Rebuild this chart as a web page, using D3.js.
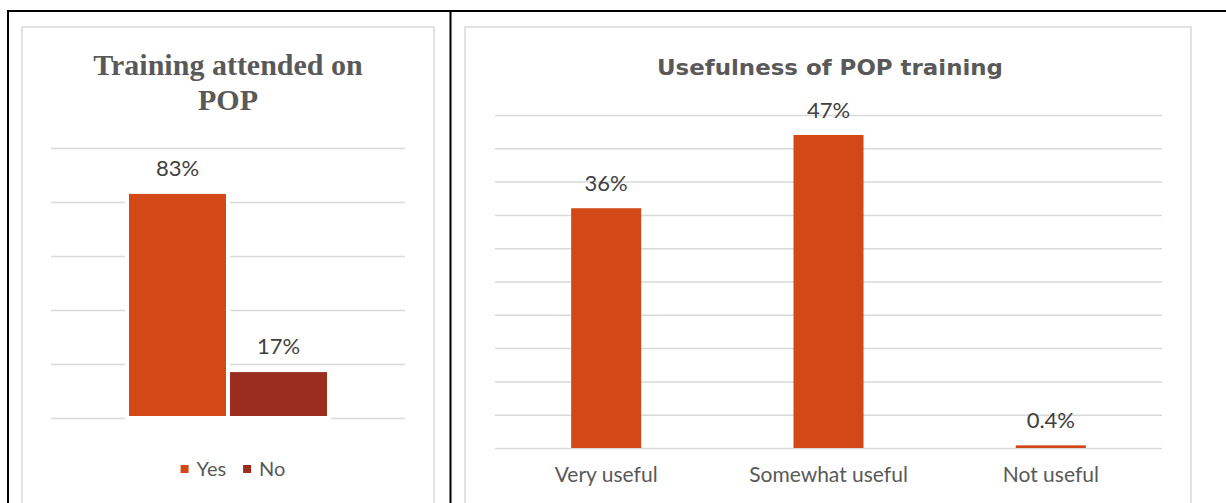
<!DOCTYPE html>
<html>
<head>
<meta charset="utf-8">
<script src="https://cdn.jsdelivr.net/npm/d3@7"></script>
<style>
  html, body { margin: 0; padding: 0; background: #fff; }
  svg { display: block; }
  .grid line { stroke: #d9d9d9; stroke-width: 1.5; }
  .grid .domain { display: none; }
</style>
</head>
<body>
<svg id="page" width="1226" height="503"></svg>
<script>
// ---- data ----
const attendedSeries = ["Yes", "No"];
const attendedValues = [83, 17];
const attendedLabels = ["83%", "17%"];
const attendedTicks = [0, 20, 40, 60, 80, 100];

const usefulCategories = ["Very useful", "Somewhat useful", "Not useful"];
const usefulValues = [36, 47, 0.4];
const usefulLabels = ["36%", "47%", "0.4%"];
const usefulTicks = [0, 5, 10, 15, 20, 25, 30, 35, 40, 45, 50];

const seriesColors = ["#d34817", "#9b2d1f"];
const sans = "Lato, 'Open Sans', sans-serif";
const wideSans = "'DejaVu Sans', Verdana, sans-serif";
const serif = "'Liberation Serif', 'Times New Roman', serif";

const svg = d3.select("#page");

// ---- table cell borders ----
svg.append("line").attr("x1", 7).attr("x2", 1226).attr("y1", 11).attr("y2", 11)
  .attr("stroke", "#000").attr("stroke-width", 2);
svg.append("line").attr("x1", 8).attr("x2", 8).attr("y1", 10).attr("y2", 503)
  .attr("stroke", "#000").attr("stroke-width", 2);
svg.append("line").attr("x1", 450.5).attr("x2", 450.5).attr("y1", 10).attr("y2", 503)
  .attr("stroke", "#000").attr("stroke-width", 2);

// ---- chart frames ----
svg.append("rect").attr("x", 22).attr("y", 27).attr("width", 412).attr("height", 500)
  .attr("fill", "#fff").attr("stroke", "#d9d9d9").attr("stroke-width", 1.5);
svg.append("rect").attr("x", 465).attr("y", 27).attr("width", 726).attr("height", 500)
  .attr("fill", "#fff").attr("stroke", "#d9d9d9").attr("stroke-width", 1.5);

// ================= Chart 1: Training attended on POP =================
{
  const left = 51, right = 405, top = 148, bottom = 418;
  const x = d3.scaleBand().domain(attendedSeries).range([left, right])
    .paddingInner(0.04).paddingOuter(0.772);
  const y = d3.scaleLinear().domain([0, 100]).range([bottom, top]);

  svg.append("g").attr("class", "grid")
    .attr("transform", `translate(${left},0)`)
    .call(d3.axisLeft(y).tickValues(attendedTicks).tickSize(-(right - left)).tickFormat(""));

  const title = svg.append("text")
    .attr("text-anchor", "middle")
    .attr("font-family", serif).attr("font-weight", "bold")
    .attr("font-size", 30).attr("fill", "#595959");
  title.append("tspan").attr("x", 228).attr("y", 75).text("Training attended on");
  title.append("tspan").attr("x", 228).attr("y", 110).text("POP");

  svg.append("g").selectAll("rect")
    .data(attendedSeries)
    .join("rect")
    .attr("x", d => x(d))
    .attr("width", x.bandwidth())
    .attr("y", (d, i) => y(attendedValues[i]))
    .attr("height", (d, i) => y(0) - y(attendedValues[i]) - 2)
    .attr("fill", (d, i) => seriesColors[i])
    .attr("stroke", "#fff").attr("stroke-width", 8)
    .attr("paint-order", "stroke");

  svg.append("g").selectAll("text")
    .data(attendedSeries)
    .join("text")
    .attr("x", d => x(d) + x.bandwidth() / 2)
    .attr("y", (d, i) => y(attendedValues[i]) - 18)
    .attr("text-anchor", "middle")
    .attr("font-family", sans).attr("font-size", 22).attr("fill", "#404040")
    .text((d, i) => attendedLabels[i]);

  // legend
  const legend = svg.append("g");
  let cx = 0;
  attendedSeries.forEach((s, i) => {
    const item = legend.append("g").attr("transform", `translate(${cx},0)`);
    item.append("rect").attr("x", 0).attr("y", -11).attr("width", 8).attr("height", 8)
      .attr("fill", seriesColors[i]);
    const t = item.append("text").attr("x", 16).attr("y", 0)
      .attr("font-family", sans).attr("font-size", 20).attr("fill", "#595959").text(s);
    cx += 16 + t.node().getComputedTextLength() + 17;
  });
  const legendWidth = cx - 17;
  legend.attr("transform", `translate(${233 - legendWidth / 2},476)`);
}

// ================= Chart 2: Usefulness of POP training =================
{
  const left = 495, right = 1162, top = 115, bottom = 448;
  const x = d3.scaleBand().domain(usefulCategories).range([left, right])
    .paddingInner(0.685).paddingOuter(0.3425);
  const y = d3.scaleLinear().domain([0, 50]).range([bottom, top]);

  svg.append("g").attr("class", "grid")
    .attr("transform", `translate(${left},0)`)
    .call(d3.axisLeft(y).tickValues(usefulTicks).tickSize(-(right - left)).tickFormat(""));

  svg.append("text")
    .attr("x", 830).attr("y", 75)
    .attr("text-anchor", "middle")
    .attr("font-family", wideSans).attr("font-weight", "bold")
    .attr("font-size", 22).attr("fill", "#595959")
    .attr("textLength", 346).attr("lengthAdjust", "spacingAndGlyphs")
    .text("Usefulness of POP training");

  svg.append("g").selectAll("rect")
    .data(usefulCategories)
    .join("rect")
    .attr("x", d => x(d))
    .attr("width", x.bandwidth())
    .attr("y", (d, i) => y(usefulValues[i]))
    .attr("height", (d, i) => y(0) - y(usefulValues[i]))
    .attr("fill", seriesColors[0]);

  svg.append("g").selectAll("text")
    .data(usefulCategories)
    .join("text")
    .attr("x", d => x(d) + x.bandwidth() / 2)
    .attr("y", (d, i) => y(usefulValues[i]) - 17)
    .attr("text-anchor", "middle")
    .attr("font-family", sans).attr("font-size", 22).attr("fill", "#404040")
    .text((d, i) => usefulLabels[i]);

  const xAxis = svg.append("g")
    .attr("transform", `translate(0,${bottom})`)
    .call(d3.axisBottom(x).tickSize(0).tickPadding(0));
  xAxis.select(".domain").remove();
  xAxis.selectAll("text")
    .attr("y", 34).attr("dy", 0)
    .attr("font-family", sans).attr("font-size", 21).attr("fill", "#595959");
}
</script>
</body>
</html>
